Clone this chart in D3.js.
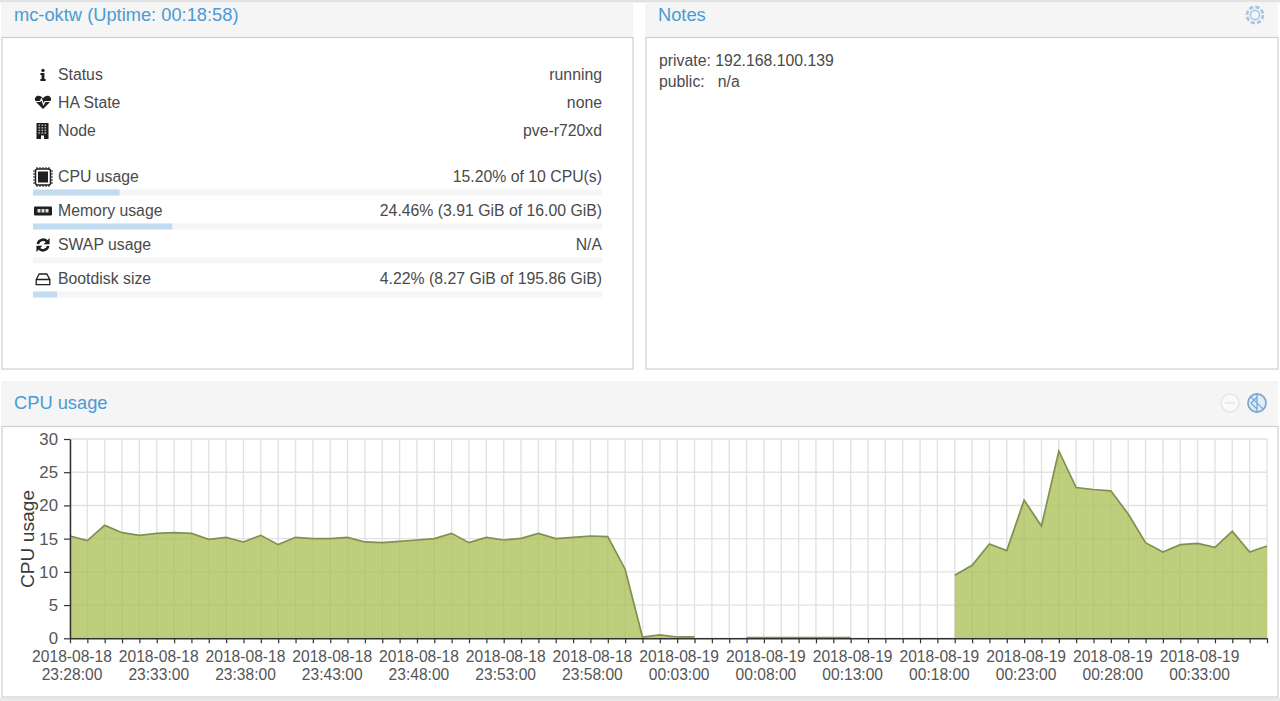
<!DOCTYPE html>
<html>
<head>
<meta charset="utf-8">
<title>mc-oktw</title>
<script src="https://cdn.jsdelivr.net/npm/d3@7/dist/d3.min.js"></script>
<style>
  html, body { margin: 0; padding: 0; background: #fff; overflow: hidden; }
  svg { display: block; }
  text { font-family: "Liberation Sans", Arial, sans-serif; }
  .title { font-size: 18.3px; fill: #4a9bd4; }
  .row { font-size: 15.8px; fill: #4a4a4a; }
  .tick text { font-size: 15.6px; fill: #555; }
</style>
</head>
<body>
<div id="chart"></div>
<script>
// Info rows of the status panel
const infoLabels = ["Status", "HA State", "Node"];
const infoValues = ["running", "none", "pve-r720xd"];

const usageLabels = ["CPU usage", "Memory usage", "SWAP usage", "Bootdisk size"];
const usageValues = ["15.20% of 10 CPU(s)", "24.46% (3.91 GiB of 16.00 GiB)", "N/A", "4.22% (8.27 GiB of 195.86 GiB)"];
const usagePercent = [15.2, 24.46, 0, 4.22];

const notesLines = ["private: 192.168.100.139", "public:   n/a"];

// CPU usage, one value per minute from 23:28:00, null where there is no sample
const cpuValues = [
  15.4, 14.7, 17.0, 15.9, 15.5, 15.8, 15.9, 15.8, 14.9, 15.2,
  14.5, 15.5, 14.1, 15.2, 15.0, 15.0, 15.2, 14.5, 14.4, 14.6,
  14.8, 15.0, 15.8, 14.4, 15.2, 14.8, 15.05, 15.8, 15.0, 15.2,
  15.4, 15.3, 10.4, 0.2, 0.5, 0.2, 0.2, null, null, 0.1,
  0.1, 0.1, 0.1, 0.1, 0.1, 0.1, null, null, null, null,
  null, 9.5, 11.0, 14.2, 13.2, 20.8, 16.9, 28.2, 22.7, 22.4,
  22.2, 18.7, 14.4, 13.0, 14.1, 14.3, 13.7, 16.1, 13.0, 13.9
];
const yTicks = [0, 5, 10, 15, 20, 25, 30];

const width = 1280;
const height = 701;

const svg = d3.select("#chart")
  .append("svg")
  .attr("width", width)
  .attr("height", height);

const headBg = "#f5f5f5";
const border = "#cfcfcf";

// panel: grey header with a title and a bordered body
function panel(x, w, top, bodyTop, bottom, title, titleX, titleY) {
  svg.append("rect").attr("x", x).attr("y", top).attr("width", w).attr("height", bodyTop - top).attr("fill", headBg);
  svg.append("rect").attr("x", x + 1).attr("y", bodyTop).attr("width", w - 1).attr("height", bottom - bodyTop)
    .attr("fill", "#fff").attr("stroke", border).attr("stroke-width", 1.2);
  svg.append("text").attr("class", "title").attr("x", titleX).attr("y", titleY).text(title);
}

svg.append("rect").attr("x", 0).attr("y", 0).attr("width", width).attr("height", 2.5).attr("fill", "#e2e2e2");
panel(1, 632, 2.5, 37.5, 369, "mc-oktw (Uptime: 00:18:58)", 14, 21);
panel(645, 633, 2.5, 37.5, 369, "Notes", 658, 21);
panel(1, 1277, 381, 426.5, 697, "CPU usage", 14, 409);
svg.append("rect").attr("x", 0).attr("y", 698).attr("width", width).attr("height", 3).attr("fill", "#e8e8e8");

// status rows
const left = 33, right = 602;
const infoBase = d3.scalePoint().domain(infoLabels).range([80, 136]);
const usageBase = d3.scalePoint().domain(usageLabels).range([182, 284]);
const barX = d3.scaleLinear().domain([0, 100]).range([left, right]);

infoLabels.forEach((d, i) => {
  svg.append("text").attr("class", "row").attr("x", 58).attr("y", infoBase(d)).text(d);
  svg.append("text").attr("class", "row").attr("x", right).attr("y", infoBase(d)).attr("text-anchor", "end").text(infoValues[i]);
});

usageLabels.forEach((d, i) => {
  const y = usageBase(d);
  svg.append("text").attr("class", "row").attr("x", 58).attr("y", y).text(d);
  svg.append("text").attr("class", "row").attr("x", right).attr("y", y).attr("text-anchor", "end").text(usageValues[i]);
  svg.append("rect").attr("x", left).attr("y", y + 7.5).attr("width", right - left).attr("height", 6).attr("fill", headBg);
  svg.append("rect").attr("x", left).attr("y", y + 7.5).attr("width", barX(usagePercent[i]) - left).attr("height", 6).attr("fill", "#c1dcf1");
});

notesLines.forEach((d, i) => {
  svg.append("text").attr("class", "row").attr("x", 659).attr("y", 66 + i * 21)
    .style("white-space", "pre").text(d);
});

// icons
const ink = "#1f1f1f";
function icon(cx, cy) {
  return svg.append("g").attr("transform", `translate(${cx},${cy})`);
}
// info
let g = icon(43, 75);
g.append("circle").attr("cx", 0).attr("cy", -4.6).attr("r", 1.7).attr("fill", ink);
g.append("path").attr("fill", ink).attr("d", "M-2.6,-2 H1.4 V4 H2.6 V6 H-2.6 V4 H-1.4 V0 H-2.6 Z");
// heartbeat
g = icon(43, 102);
g.append("path").attr("fill", ink).attr("d", "M0,7 L-7,0 C-10,-4 -6,-7 -3.5,-6 C-2,-5.6 -1,-4.8 0,-3.8 C1,-4.8 2,-5.6 3.5,-6 C6,-7 10,-4 7,0 Z");
g.append("path").attr("fill", "none").attr("stroke", "#fff").attr("stroke-width", 1.2).attr("d", "M-8,-0.5 H-3 L-1.5,-3 L0.5,2.5 L2,-0.5 H8");
// building
g = icon(42.5, 131);
g.append("rect").attr("x", -6).attr("y", -8).attr("width", 12).attr("height", 16).attr("fill", ink);
d3.range(4).forEach(r => d3.range(3).forEach(c => {
  g.append("rect").attr("x", -4 + c * 3).attr("y", -6.5 + r * 2.6).attr("width", 1.6).attr("height", 1.4).attr("fill", "#bbb");
}));
g.append("rect").attr("x", -1.5).attr("y", 4.5).attr("width", 3).attr("height", 3.5).attr("fill", "#fff");
// cpu
g = icon(43, 177);
g.append("rect").attr("x", -7.5).attr("y", -8).attr("width", 15).attr("height", 16).attr("rx", 2).attr("fill", "none").attr("stroke", ink).attr("stroke-width", 1.5);
g.append("rect").attr("x", -5).attr("y", -5.5).attr("width", 10).attr("height", 11).attr("fill", ink);
d3.range(-6, 7, 3).forEach(p => {
  g.append("path").attr("stroke", ink).attr("d", `M-10,${p} H-8 M8,${p} H10 M${p},-10 V-8 M${p},8 V10`);
});
// memory
g = icon(43, 211);
g.append("rect").attr("x", -9).attr("y", -4.5).attr("width", 18).attr("height", 9).attr("rx", 1).attr("fill", ink);
[-5.5, -1.5, 2.5].forEach(p => g.append("rect").attr("x", p).attr("y", -2).attr("width", 3).attr("height", 3.5).attr("fill", "#ddd"));
// swap
g = icon(43, 245);
g.append("path").attr("fill", "none").attr("stroke", ink).attr("stroke-width", 2.6).attr("d", "M-5.2,-1 A5.4,5.4 0 0 1 4,-3.6 M5.2,1 A5.4,5.4 0 0 1 -4,3.6");
g.append("path").attr("fill", ink).attr("d", "M6.6,-7 V-0.8 H0.6 Z M-6.6,7 V0.8 H-0.6 Z");
// disk
g = icon(43, 279.5);
g.append("path").attr("fill", "none").attr("stroke", ink).attr("stroke-width", 1.3).attr("d", "M-6.8,0 L-3.8,-5.5 H3.8 L6.8,0 V5.2 H-6.8 Z M-6.8,0 H6.8");

// header tools
g = icon(1255, 15);
g.append("circle").attr("r", 4.6).attr("fill", "none").attr("stroke", "#a5c6e4").attr("stroke-width", 1.6);
g.append("circle").attr("r", 8).attr("fill", "none").attr("stroke", "#a5c6e4").attr("stroke-width", 2.8).attr("stroke-dasharray", "4.2 2.1");
g = icon(1230, 403);
g.append("circle").attr("r", 9).attr("fill", "#fafafa").attr("stroke", "#dfe8f1").attr("stroke-width", 1.6);
g.append("path").attr("stroke", "#dfe8f1").attr("stroke-width", 1.6).attr("d", "M-5,0 H5");
g = icon(1257, 403);
g.append("circle").attr("r", 9).attr("fill", "#e3edf6").attr("stroke", "#79a9d3").attr("stroke-width", 1.8);
g.append("path").attr("fill", "none").attr("stroke", "#79a9d3").attr("stroke-width", 1.3).attr("d", "M0,-9 V9 M-6.4,-6.4 L6.4,6.4 M0,-6 L-6,0 L0,6");

// CPU chart
const startTime = new Date(2018, 7, 18, 23, 28, 0);
const times = cpuValues.map((d, i) => d3.timeMinute.offset(startTime, i));
const cpuData = cpuValues.map((d, i) => ({ time: times[i], value: d }));

const x = d3.scaleTime().domain(d3.extent(times)).range([70, 1267]);
const y = d3.scaleLinear().domain([0, 30]).range([638.3, 439]);

// grid
const grid = svg.append("g").attr("stroke", "#e2e2e2").attr("stroke-width", 1.4);
grid.selectAll(".v").data(times).enter().append("line")
  .attr("x1", d => x(d)).attr("x2", d => x(d)).attr("y1", y(30)).attr("y2", y(0));
grid.selectAll(".h").data(yTicks).enter().append("line")
  .attr("x1", x.range()[0]).attr("x2", x.range()[1]).attr("y1", d => y(d)).attr("y2", d => y(d));

// area and its outline
const area = d3.area()
  .defined(d => d.value !== null)
  .x(d => x(d.time))
  .y0(y(0))
  .y1(d => y(d.value));
const line = d3.line()
  .defined(d => d.value !== null)
  .x(d => x(d.time))
  .y(d => y(d.value));

svg.append("path").datum(cpuData).attr("d", area).attr("fill", "#a8bd52").attr("fill-opacity", 0.75).attr("stroke", "none");
svg.append("path").datum(cpuData).attr("d", line).attr("fill", "none").attr("stroke", "#7f9150").attr("stroke-width", 1.7);

// axes
const fmtDate = d3.timeFormat("%Y-%m-%d");
const fmtTime = d3.timeFormat("%H:%M:%S");

const xAxis = svg.append("g")
  .attr("transform", `translate(0,${y(0)})`)
  .call(d3.axisBottom(x).tickValues(times).tickSize(5).tickSizeOuter(0).tickFormat(""));
xAxis.select(".domain").attr("stroke", "#333").attr("stroke-width", 1.5);
xAxis.selectAll(".tick line").attr("stroke", "#333").attr("stroke-width", 1.2);

const labelTimes = times.filter((d, i) => i % 5 === 0 && i < 70);
const xLabels = svg.append("g").attr("class", "tick").attr("text-anchor", "middle");
labelTimes.forEach(d => {
  const t = xLabels.append("text");
  t.append("tspan").attr("x", x(d) + 2).attr("y", 662).text(fmtDate(d));
  t.append("tspan").attr("x", x(d) + 2).attr("y", 680).text(fmtTime(d));
});

const yAxis = svg.append("g")
  .attr("transform", "translate(70,0)")
  .call(d3.axisLeft(y).tickValues(yTicks).tickSize(6).tickSizeOuter(0).tickPadding(6));
yAxis.select(".domain").attr("stroke", "#333").attr("stroke-width", 1.5);
yAxis.selectAll(".tick line").attr("stroke", "#333").attr("stroke-width", 1.2);
yAxis.selectAll(".tick text").style("font-size", "16.8px").attr("fill", "#555");

svg.append("text")
  .attr("transform", "translate(33.5,539) rotate(-90)")
  .attr("text-anchor", "middle")
  .attr("font-size", "19.2px")
  .attr("fill", "#3a3a3a")
  .text("CPU usage");
</script>
</body>
</html>
